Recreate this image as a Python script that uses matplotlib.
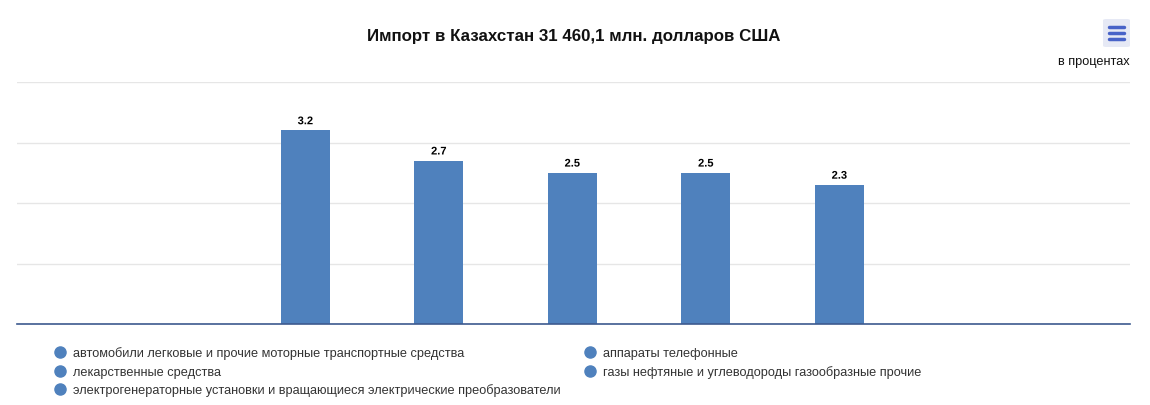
import matplotlib.pyplot as plt
from matplotlib.lines import Line2D
from matplotlib.patches import FancyBboxPatch
import matplotlib.patheffects as pe

plt.rcParams['font.family'] = ['Liberation Sans', 'DejaVu Sans']

# data
title = 'Импорт в Казахстан 31 460,1 млн. долларов США'
subtitle = 'в процентах'
series_names = [
    'автомобили легковые и прочие моторные транспортные средства',
    'аппараты телефонные',
    'лекарственные средства',
    'газы нефтяные и углеводороды газообразные прочие',
    'электрогенераторные установки и вращающиеся электрические преобразователи',
]
values = [3.2, 2.7, 2.5, 2.5, 2.3]

bar_color = '#4f81bd'
W, H = 1150, 405

fig = plt.figure(figsize=(W / 100, H / 100), dpi=100)
ax = fig.add_axes([17 / W, 1 - 324 / H, (1130 - 17) / W, (324 - 82) / H])

# one category, five series side by side
step = 133.5 / 1113
width = 49 / 1113
for i, v in enumerate(values):
    x = (i - 2) * step - 0.001
    ax.bar(x, v, width=width, color=bar_color, zorder=3)
    ax.annotate(f'{v}', (x, v), xytext=(0, 3), textcoords='offset points',
                ha='center', va='bottom', fontsize=8, fontweight='bold',
                color='black', zorder=4,
                path_effects=[pe.withStroke(linewidth=2, foreground='white')])

ax.set_xlim(-0.5, 0.5)
ax.set_ylim(0, 4)
ax.set_yticks([0, 1, 2, 3, 4])
ax.grid(axis='y', color='#e6e6e6', linewidth=1, zorder=0)
ax.tick_params(left=False, bottom=False, labelleft=False, labelbottom=False)
for s in ['top', 'right', 'left']:
    ax.spines[s].set_visible(False)
ax.spines['bottom'].set_color('#3d5a8f')
ax.spines['bottom'].set_linewidth(1.2)
ax.spines['bottom'].set_zorder(5)

# title and subtitle
fig.text(574 / W, 1 - 37 / H, title, ha='center', va='center',
         fontsize=12.2, fontweight='bold', color='#111111')
fig.text(1130 / W, 1 - 62 / H, subtitle, ha='right', va='center',
         fontsize=9.2, color='#111111')

# menu button
btn = FancyBboxPatch((1103 / W, 1 - 47 / H), 27 / W, 28 / H,
                     boxstyle='round,pad=0,rounding_size=0.003',
                     transform=fig.transFigure, facecolor='#e6e9f5',
                     edgecolor='none')
fig.add_artist(btn)
for yy in [27, 33, 39]:
    fig.add_artist(Line2D([1109 / W, 1124 / W], [1 - yy / H, 1 - yy / H],
                          transform=fig.transFigure, color='#4863c8',
                          linewidth=2.5, solid_capstyle='round'))

# legend, two columns filled row by row
col_x = [60, 590]
row_y = [352, 371, 389]
for i, name in enumerate(series_names):
    cx = col_x[i % 2]
    cy = row_y[i // 2]
    fig.add_artist(Line2D([cx / W], [1 - cy / H], transform=fig.transFigure,
                          marker='o', markersize=8, color=bar_color,
                          linestyle='none'))
    fig.text((cx + 13) / W, 1 - (cy + 2) / H, name, ha='left', va='center',
             fontsize=9.2, color='#333333')

fig.savefig('out.png', dpi=100)
